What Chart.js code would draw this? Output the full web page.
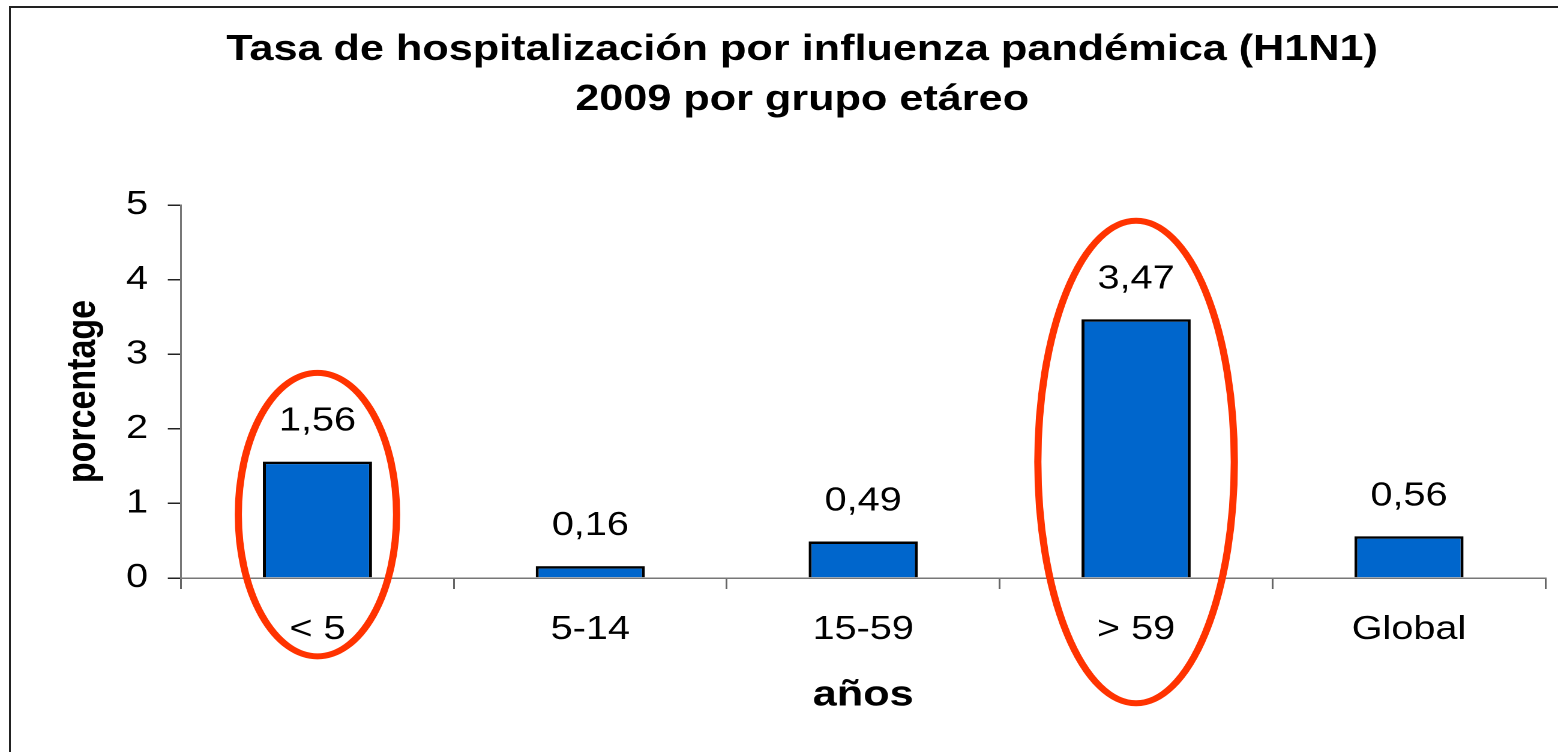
<!DOCTYPE html>
<html>
<head>
<meta charset="utf-8">
<script src="https://cdn.jsdelivr.net/npm/chart.js@4/dist/chart.umd.min.js"></script>
<style>
  html, body { margin: 0; padding: 0; background: #fff; overflow: hidden; }
  #frame {
    position: absolute; left: 9px; top: 6px; right: 0; bottom: 0;
    border-left: 2px solid #222; border-top: 2px solid #222;
  }
  #wrap {
    position: absolute; left: 0; top: 0;
    transform: scaleX(1.2003); transform-origin: 0 0;
  }
</style>
</head>
<body>
<div id="frame"></div>
<div id="wrap"><canvas id="chart" width="1298" height="752"></canvas></div>
<script>
// datos (grupo etáreo / tasa de hospitalización %)
const grupos = ["< 5", "5-14", "15-59", "> 59", "Global"];
const tasas = [1.56, 0.16, 0.49, 3.47, 0.56];
const yTicks = [0, 1, 2, 3, 4, 5];

// grupos destacados con elipse: indice, desde/hasta (en %), media anchura (en categorías)
const destacados = [0, 3];
const elipseDesde = [-1.05, -1.68];
const elipseHasta = [2.75, 4.79];
const elipseAncho = [0.29, 0.36];

const fmt = (v) => v.toFixed(2).replace(".", ",");

Chart.defaults.font.family = '"Liberation Sans", Arial, sans-serif';
Chart.defaults.color = "#000";

// etiquetas de valor encima de las barras
const valoresPlugin = {
  id: "valores",
  afterDatasetsDraw(chart) {
    const ctx = chart.ctx;
    const meta = chart.getDatasetMeta(0);
    ctx.save();
    ctx.font = '33px "Liberation Sans", Arial, sans-serif';
    ctx.fillStyle = "#000";
    ctx.textAlign = "center";
    ctx.textBaseline = "middle";
    meta.data.forEach((bar, i) => {
      ctx.fillText(fmt(tasas[i]), bar.x, bar.y - 40);
    });
    ctx.restore();
  }
};

// elipses rojas
const elipsesPlugin = {
  id: "elipses",
  afterDraw(chart) {
    const { ctx, scales: { x, y } } = chart;
    const paso = x.getPixelForValue(1) - x.getPixelForValue(0);
    ctx.save();
    ctx.strokeStyle = "#ff3300";
    ctx.lineWidth = 6;
    destacados.forEach((idx, k) => {
      const top = y.getPixelForValue(elipseHasta[k]);
      const bottom = y.getPixelForValue(elipseDesde[k]);
      ctx.beginPath();
      ctx.ellipse(x.getPixelForValue(idx), (top + bottom) / 2,
        elipseAncho[k] * paso, (bottom - top) / 2, 0, 0, Math.PI * 2);
      ctx.stroke();
    });
    ctx.restore();
  }
};

new Chart(document.getElementById("chart"), {
  type: "bar",
  data: {
    labels: grupos,
    datasets: [{
      data: tasas,
      backgroundColor: "#0066cc",
      borderColor: "#000",
      borderWidth: 2.5,
      barPercentage: 0.4,
      categoryPercentage: 1
    }]
  },
  options: {
    responsive: false,
    animation: false,
    devicePixelRatio: 2,
    layout: { padding: { left: 49, right: 10.5, top: 0, bottom: 0 } },
    plugins: {
      legend: { display: false },
      tooltip: { enabled: false },
      title: {
        display: true,
        text: ["Tasa de hospitalización por influenza pandémica (H1N1)", "2009 por grupo etáreo"],
        font: { size: 36, weight: "bold", lineHeight: 1.39 },
        color: "#000",
        padding: { top: 25, bottom: 80 }
      }
    },
    scales: {
      x: {
        grid: { offset: true, drawOnChartArea: false, tickLength: 11, color: "#666", lineWidth: 1.5 },
        border: { color: "#777", width: 1.5 },
        ticks: { font: { size: 33 }, padding: 21, color: "#000" },
        title: {
          display: true, text: "años",
          font: { size: 36, weight: "bold" },
          padding: { top: 0, bottom: 35 }, color: "#000"
        },
        afterFit(scale) { scale.height = 174; }
      },
      y: {
        min: 0, max: 5,
        afterBuildTicks(scale) { scale.ticks = yTicks.map((v) => ({ value: v })); },
        grid: { drawOnChartArea: false, tickLength: 11, color: "#222", lineWidth: 1.5 },
        border: { color: "#777", width: 1.5 },
        ticks: { font: { size: 33 }, padding: 16.5, color: "#000" },
        title: {
          display: true, text: "porcentage",
          font: { size: 34, weight: "bold" },
          padding: { top: 0, bottom: 0 }, color: "#000"
        },
        afterFit(scale) { scale.width = 101.8; }
      }
    }
  },
  plugins: [valoresPlugin, elipsesPlugin]
});
</script>
</body>
</html>
